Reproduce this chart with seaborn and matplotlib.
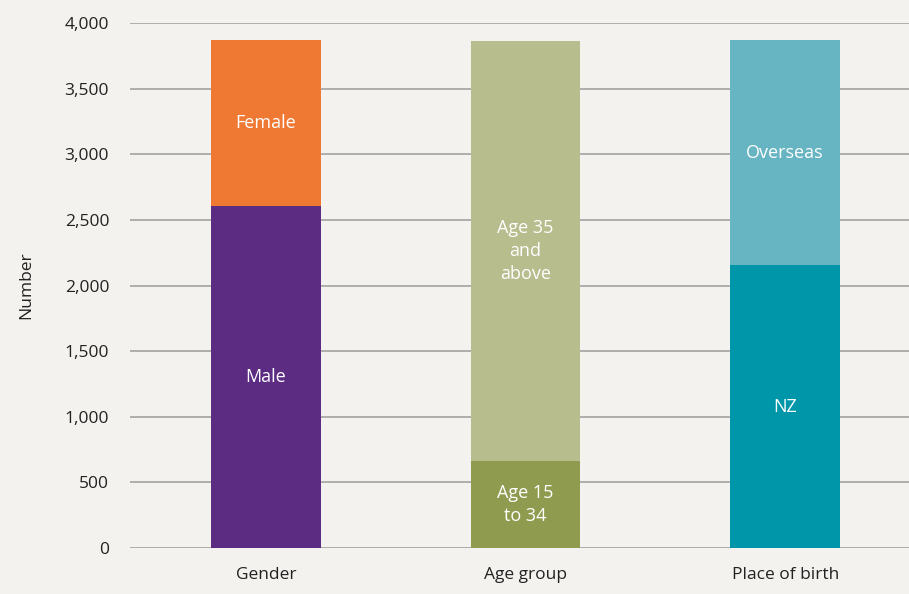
import matplotlib
matplotlib.use('Agg')
import matplotlib.pyplot as plt
from matplotlib.ticker import FuncFormatter
import seaborn as sns
import pandas as pd

categories = ['Gender', 'Age group', 'Place of birth']
bottom_labels = ['Male', 'Age 15\nto 34', 'NZ']
bottom_values = [2606, 663, 2156]
top_labels = ['Female', 'Age 35\nand\nabove', 'Overseas']
top_values = [1264, 3200, 1714]
bottom_colors = ['#5b2c81', '#8f9c4f', '#0096a9']
top_colors = ['#ef7832', '#b8bd8e', '#67b4c3']

bg = '#f4f2ee'
sns.set_style('white')
plt.rcParams['font.family'] = ['Open Sans', 'DejaVu Sans']

df = pd.DataFrame({'category': categories, 'bottom': bottom_values, 'top': top_values})
df['total'] = df['bottom'] + df['top']

fig = plt.figure(figsize=(9.09, 5.94), dpi=100, facecolor=bg)
ax = fig.add_axes([130 / 909, 46 / 594, 779 / 909, 525 / 594])
ax.set_facecolor(bg)

# stacked: draw totals first, then the bottom segment on top of it
sns.barplot(data=df, x='category', y='total', hue='category', palette=top_colors,
            order=categories, hue_order=categories, saturation=1,
            width=0.423, legend=False, ax=ax, zorder=3, linewidth=0)
sns.barplot(data=df, x='category', y='bottom', hue='category', palette=bottom_colors,
            order=categories, hue_order=categories, saturation=1,
            width=0.423, legend=False, ax=ax, zorder=3, linewidth=0)

for i in range(len(categories)):
    ax.text(i, bottom_values[i] / 2, bottom_labels[i], ha='center', va='center',
            color='white', fontsize=13, linespacing=1.35, zorder=4)
    ax.text(i, bottom_values[i] + top_values[i] / 2, top_labels[i], ha='center', va='center',
            color='white', fontsize=13, linespacing=1.35, zorder=4)

ax.set_ylim(0, 4000)
ax.set_xlim(-0.523, 2.477)
ax.set_yticks(range(0, 4001, 500))
ax.yaxis.set_major_formatter(FuncFormatter(lambda v, p: f'{int(v):,}'))
ax.grid(axis='y', color='#a8a8a8', linewidth=1.3, zorder=0)
ax.set_axisbelow(True)
for s in ax.spines.values():
    s.set_visible(False)
ax.tick_params(axis='both', length=0, labelsize=12.5, colors='#222222')
ax.tick_params(axis='y', pad=15)
ax.tick_params(axis='x', pad=14)
ax.set_xlabel('')
ax.set_ylabel('Number', fontsize=12.5, color='#222222', labelpad=22)

plt.savefig('out.png', dpi=100, facecolor=bg)
